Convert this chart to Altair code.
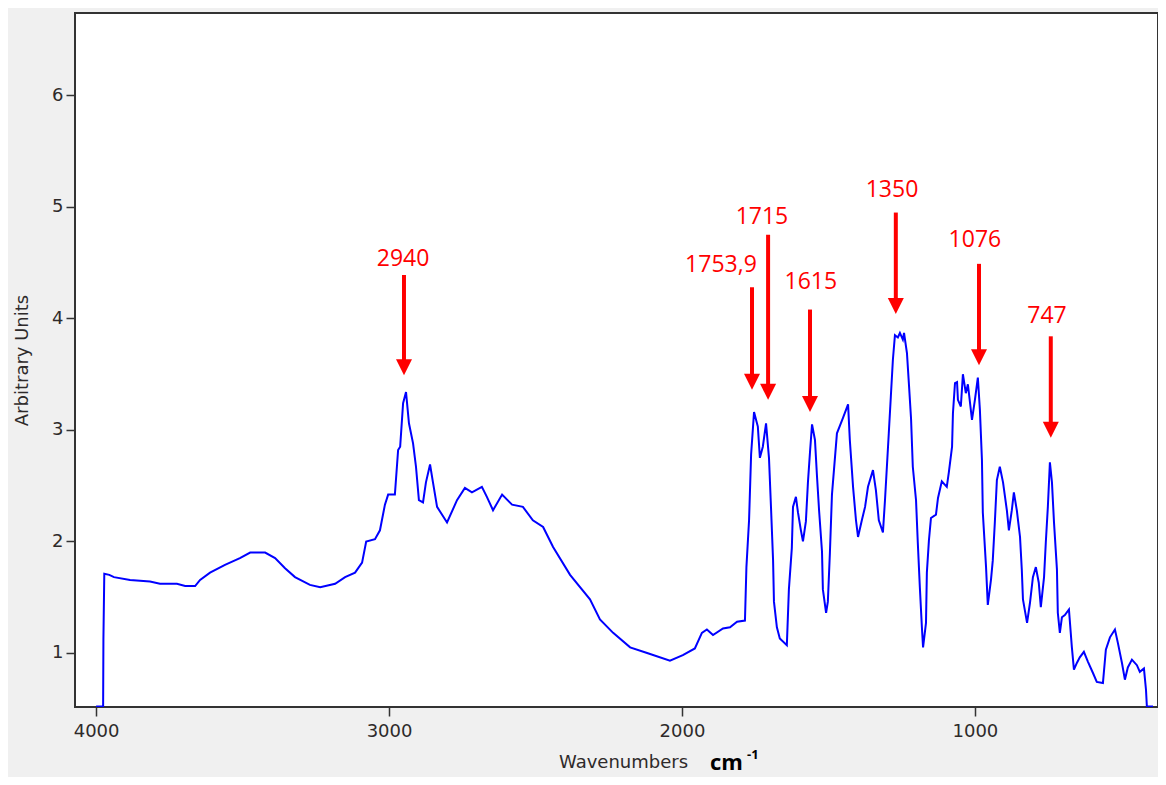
import altair as alt
import pandas as pd

# ---- spectrum (wavenumber cm-1, arbitrary units) ----
wavenumber = [
    4000, 3976, 3975, 3972, 3955, 3939, 3884, 3816, 3782, 3724, 3696, 3662, 3645, 3611,
    3560, 3509, 3474, 3423, 3389, 3355, 3321, 3270, 3235, 3184, 3150, 3116, 3092, 3078,
    3048, 3031, 3014, 3003, 2980, 2969, 2962, 2952, 2942, 2932, 2918, 2908, 2898, 2884,
    2874, 2860, 2850, 2836, 2802, 2768, 2741, 2717, 2683, 2666, 2645, 2614, 2580, 2543,
    2509, 2474, 2440, 2382, 2314, 2280, 2235, 2177, 2119, 2041, 1997, 1956, 1932, 1915,
    1894, 1860, 1836, 1812, 1785, 1780, 1771, 1764, 1754, 1741, 1734, 1724, 1713, 1703,
    1696, 1689, 1686, 1676, 1666, 1642, 1635, 1625, 1621, 1611, 1604, 1594, 1587, 1577,
    1570, 1563, 1556, 1546, 1539, 1532, 1522, 1519, 1508, 1502, 1495, 1488, 1471, 1450,
    1433, 1427, 1416, 1406, 1399, 1386, 1375, 1365, 1348, 1338, 1328, 1314, 1307, 1294,
    1287, 1280, 1273, 1263, 1256, 1246, 1242, 1232, 1225, 1218, 1212, 1201, 1195, 1188,
    1181, 1177, 1167, 1164, 1157, 1150, 1133, 1126, 1113, 1096, 1089, 1078, 1075, 1068,
    1061, 1058, 1048, 1041, 1031, 1024, 1010, 1000, 990, 983, 976, 973, 962, 956,
    945, 939, 932, 925, 915, 904, 891, 884, 874, 867, 857, 846, 840, 836,
    822, 812, 802, 792, 782, 775, 764, 758, 751, 744, 737, 730, 720, 717,
    710, 703, 693, 679, 669, 662, 652, 642, 628, 614, 597, 584, 563, 553,
    539, 522, 512, 498, 488, 478, 464, 447, 437, 423, 416, 413, 392,
]
intensity = [
    0.52, 0.52, 1.12, 1.71, 1.70, 1.68, 1.655, 1.64, 1.62, 1.62, 1.60, 1.60, 1.655, 1.72,
    1.79, 1.85, 1.90, 1.90, 1.85, 1.76, 1.68, 1.61, 1.59, 1.62, 1.68, 1.72, 1.81, 2.00,
    2.02, 2.10, 2.33, 2.42, 2.42, 2.82, 2.85, 3.24, 3.34, 3.06, 2.88, 2.67, 2.37, 2.35,
    2.53, 2.69, 2.53, 2.31, 2.17, 2.37, 2.48, 2.44, 2.49, 2.40, 2.28, 2.42, 2.33, 2.31,
    2.19, 2.13, 1.95, 1.70, 1.48, 1.30, 1.18, 1.05, 1.00, 0.93, 0.98, 1.04, 1.18, 1.21,
    1.16, 1.22, 1.23, 1.28, 1.29, 1.77, 2.19, 2.78, 3.16, 3.03, 2.75, 2.85, 3.06, 2.75,
    2.30, 1.83, 1.46, 1.23, 1.13, 1.07, 1.57, 1.94, 2.31, 2.40, 2.26, 2.10, 2.00, 2.18,
    2.53, 2.80, 3.05, 2.91, 2.58, 2.28, 1.91, 1.57, 1.36, 1.46, 1.90, 2.42, 2.97, 3.11,
    3.23, 2.91, 2.49, 2.19, 2.04, 2.19, 2.31, 2.49, 2.64, 2.46, 2.19, 2.08, 2.37, 2.97,
    3.30, 3.63, 3.85, 3.83, 3.87, 3.81, 3.87, 3.69, 3.40, 3.10, 2.67, 2.37, 1.99, 1.59,
    1.23, 1.05, 1.27, 1.72, 2.01, 2.21, 2.24, 2.39, 2.54, 2.49, 2.62, 2.85, 3.15, 3.42,
    3.43, 3.27, 3.21, 3.50, 3.33, 3.41, 3.09, 3.27, 3.47, 3.18, 2.73, 2.26, 1.77, 1.43,
    1.66, 1.83, 2.17, 2.55, 2.67, 2.53, 2.28, 2.10, 2.28, 2.44, 2.28, 2.04, 1.75, 1.48,
    1.27, 1.45, 1.68, 1.77, 1.63, 1.41, 1.68, 1.99, 2.31, 2.71, 2.53, 2.17, 1.75, 1.36,
    1.18, 1.32, 1.34, 1.39, 1.05, 0.85, 0.91, 0.96, 1.01, 0.92, 0.82, 0.74, 0.73, 1.03,
    1.14, 1.21, 1.09, 0.91, 0.76, 0.87, 0.94, 0.89, 0.83, 0.86, 0.67, 0.52, 0.52,
]

# ---- peak annotations ----
peak_labels = ["2940", "1753,9", "1715", "1615", "1350", "1076", "747"]
label_x = [2952, 1867, 1727, 1560, 1283, 1000, 754]
label_y = [4.47, 4.42, 4.85, 4.26, 5.09, 4.64, 3.96]
arrow_x = [2949, 1761, 1706, 1563, 1270, 986, 741]
arrow_top = [4.39, 4.28, 4.75, 4.08, 4.95, 4.49, 3.84]
arrow_tip = [3.49, 3.36, 3.27, 3.16, 4.04, 3.58, 2.93]

x_ticks = [1000, 2000, 3000, 4000]
y_ticks = [1, 2, 3, 4, 5, 6]
x_domain = [375, 4072]
y_domain = [0.515, 6.74]

spec = pd.DataFrame({"wn": wavenumber, "val": intensity})
ann = pd.DataFrame({
    "label": peak_labels, "lx": label_x, "ly": label_y,
    "ax": arrow_x, "atop": arrow_top, "atip": arrow_tip,
})
unit = pd.DataFrame({"u": ["cm"], "s": ["-1"]})

xscale = alt.Scale(domain=x_domain, reverse=True, nice=False, zero=False)
yscale = alt.Scale(domain=y_domain, nice=False, zero=False)

xaxis = alt.Axis(values=x_ticks, title="Wavenumbers", titleX=548, titleAlign="center",
                 labelFlush=False, grid=False, format="d")
yaxis = alt.Axis(values=y_ticks, title="Arbitrary Units", grid=False, format="d")

line = alt.Chart(spec).mark_line(color="#0000ff", strokeWidth=2, clip=True).encode(
    x=alt.X("wn:Q", scale=xscale, axis=xaxis),
    y=alt.Y("val:Q", scale=yscale, axis=yaxis),
    order=alt.Order("wn:Q", sort="descending"),
)

shaft = alt.Chart(ann).mark_rule(color="#ff0000", strokeWidth=4, y2Offset=-8).encode(
    x=alt.X("ax:Q", scale=xscale),
    y=alt.Y("atop:Q", scale=yscale),
    y2="atip:Q",
)

head = alt.Chart(ann).mark_point(
    shape="M-1,-1L1,-1L0,1Z", filled=True, size=256, color="#ff0000",
    opacity=1, strokeWidth=0, yOffset=-8,
).encode(
    x=alt.X("ax:Q", scale=xscale),
    y=alt.Y("atip:Q", scale=yscale),
)

labels = alt.Chart(ann).mark_text(
    color="#ff0000", font="Open Sans", fontSize=23, align="center", baseline="alphabetic",
).encode(
    x=alt.X("lx:Q", scale=xscale),
    y=alt.Y("ly:Q", scale=yscale),
    text="label:N",
)

cm = alt.Chart(unit).mark_text(
    color="#000000", font="Open Sans", fontSize=22, fontWeight="bold",
    align="left", baseline="alphabetic",
).encode(x=alt.value(635), y=alt.value(757), text="u:N")

sup = alt.Chart(unit).mark_text(
    color="#000000", font="Open Sans", fontSize=13, fontWeight="bold",
    align="left", baseline="alphabetic",
).encode(x=alt.value(672), y=alt.value(746), text="s:N")

chart = alt.layer(line, shaft, head, labels, cm, sup).properties(
    width=1083,
    height=694,
    autosize=alt.AutoSizeParams(type="none"),
    padding={"left": 67, "top": 5, "right": 0, "bottom": 70},
    background="#f0f0f0",
).configure_view(
    fill="#ffffff", stroke="#333333", strokeWidth=2,
).configure_axis(
    domain=False,
    labelFont="DejaVu Sans", labelFontSize=18, labelColor="#2e2a2a",
    titleFont="DejaVu Sans", titleFontSize=18, titleColor="#2e2a2a", titleFontWeight="normal",
    tickColor="#333333", tickSize=9, tickWidth=1.5,
).configure_axisBottom(
    labelPadding=6, titlePadding=13,
).configure_axisLeft(
    labelPadding=3, titlePadding=20,
)

chart.save("out.html", embed_options={"renderer": "svg", "actions": False})
